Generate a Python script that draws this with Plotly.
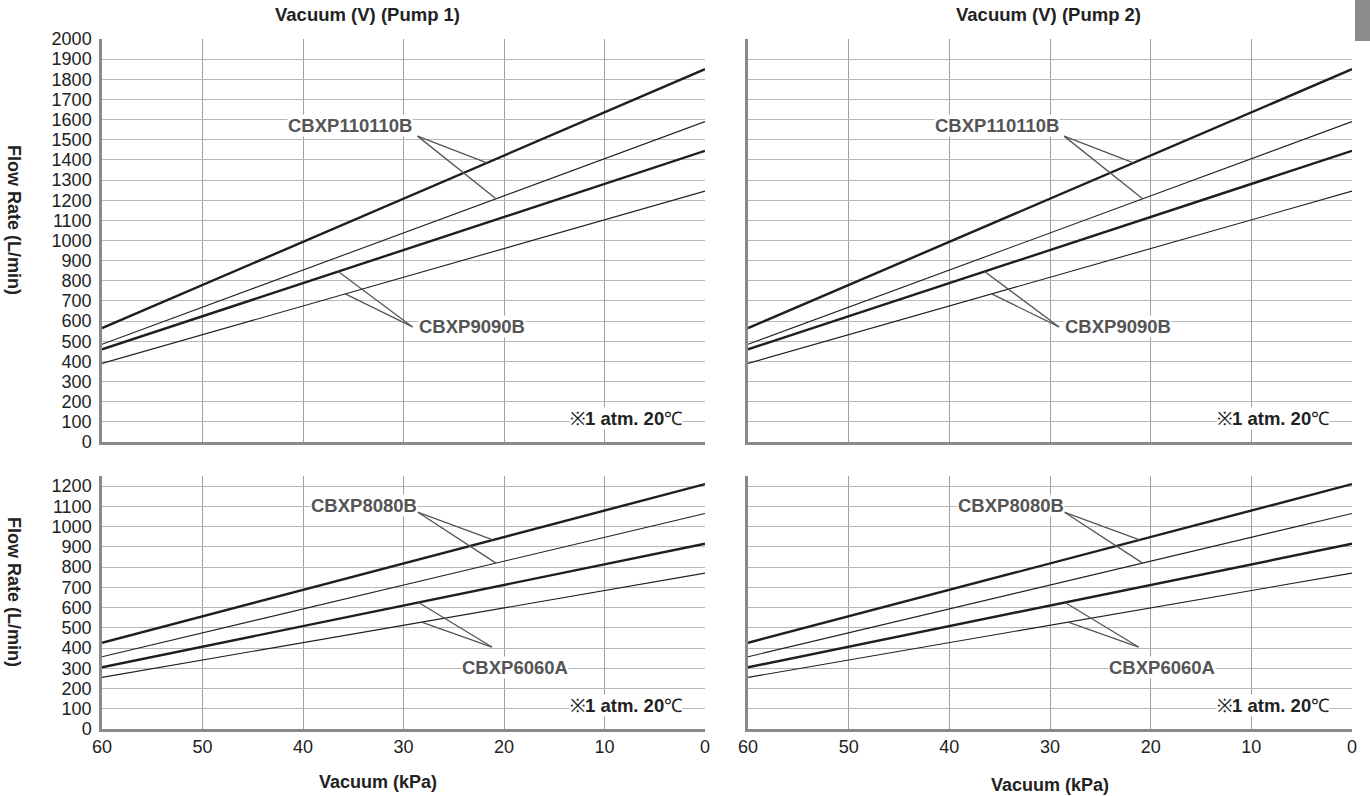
import plotly.graph_objects as go

# ---------------- data ----------------
vacuum_kpa = [60, 0]

# Top panels (both pumps identical)
cbxp110110b_thick = [565, 1850]
cbxp110110b_thin = [485, 1590]
cbxp9090b_thick = [460, 1445]
cbxp9090b_thin = [390, 1245]

# Bottom panels
cbxp8080b_thick = [426, 1210]
cbxp8080b_thin = [357, 1065]
cbxp6060a_thick = [305, 915]
cbxp6060a_thin = [255, 770]

panel_titles = ["Vacuum (V) (Pump 1)", "Vacuum (V) (Pump 2)"]
x_ticks = [60, 50, 40, 30, 20, 10, 0]
y_ticks_top = list(range(0, 2001, 100))
y_ticks_bottom = list(range(0, 1201, 100))

W, H = 1370, 796


def px_x(p):
    return p / W


def px_y(p):
    return 1 - p / H


def interp(xs, ys, x):
    x0, x1 = xs
    y0, y1 = ys
    return y0 + (y1 - y0) * (x - x0) / (x1 - x0)


fig = go.Figure()

dom_x = [[px_x(102), px_x(705)], [px_x(748), px_x(1352)]]
dom_y_top = [px_y(442), px_y(39)]
dom_y_bot = [px_y(729), px_y(476)]

GRID = "#b8b8b8"
VGRID = "#a0a0a0"
AXIS = "#8a8a8a"
TXT = "#222222"
LBL = "#555555"
FONT = "Liberation Sans, Arial"

axes = [
    ("x", "y", 0, "top"),
    ("x2", "y2", 1, "top"),
    ("x3", "y3", 0, "bot"),
    ("x4", "y4", 1, "bot"),
]

layout_axes = {}
for i, (xa, ya, col, row) in enumerate(axes):
    xname = "xaxis" if xa == "x" else "xaxis" + xa[1:]
    yname = "yaxis" if ya == "y" else "yaxis" + ya[1:]
    layout_axes[xname] = dict(
        domain=dom_x[col], range=[60, 0], anchor=ya, automargin=False,
        tickmode="array", tickvals=x_ticks,
        showticklabels=(row == "bot"),
        showgrid=True, gridcolor=VGRID, gridwidth=1.3,
        zeroline=False, showline=True, linecolor=AXIS, linewidth=2.5,
        ticks="", tickfont=dict(family=FONT, size=18, color=TXT),
        fixedrange=True,
    )
    top = 2000 if row == "top" else 1250
    yt = y_ticks_top if row == "top" else y_ticks_bottom
    layout_axes[yname] = dict(
        domain=dom_y_top if row == "top" else dom_y_bot, range=[0, top], anchor=xa,
        automargin=False,
        tickmode="array", tickvals=yt,
        showticklabels=(col == 0),
        showgrid=True, gridcolor=GRID, gridwidth=1.3,
        zeroline=False, showline=True, linecolor=AXIS, linewidth=2.5,
        ticks="", ticklabelstandoff=4,
        tickfont=dict(family=FONT, size=18, color=TXT),
        fixedrange=True,
    )

top_series = [
    (cbxp110110b_thick, 2.4),
    (cbxp110110b_thin, 1.1),
    (cbxp9090b_thick, 2.4),
    (cbxp9090b_thin, 1.1),
]
bot_series = [
    (cbxp8080b_thick, 2.4),
    (cbxp8080b_thin, 1.1),
    (cbxp6060a_thick, 2.4),
    (cbxp6060a_thin, 1.1),
]

for xa, ya, col, row in axes:
    series = top_series if row == "top" else bot_series
    for ys, w in series:
        fig.add_trace(go.Scatter(
            x=vacuum_kpa, y=ys, mode="lines", xaxis=xa, yaxis=ya,
            line=dict(color="#1e1e1e", width=w), showlegend=False,
            hoverinfo="skip",
        ))

annotations = []
shapes = []

# label definitions: (text, label x, label y, leader start x, start y, [(series, x on line)])
top_labels = [
    ("CBXP110110B", 35.3, 1573, 28.6, 1518,
     [(cbxp110110b_thick, 21.7), (cbxp110110b_thin, 20.8)]),
    ("CBXP9090B", 23.2, 575, 29.1, 571,
     [(cbxp9090b_thick, 36.5), (cbxp9090b_thin, 35.8)]),
]
bot_labels = [
    ("CBXP8080B", 33.9, 1106, 28.6, 1072,
     [(cbxp8080b_thick, 21.1), (cbxp8080b_thin, 20.8)]),
    ("CBXP6060A", 18.9, 305, 21.2, 405,
     [(cbxp6060a_thick, 28.5), (cbxp6060a_thin, 28.2)]),
]

for xa, ya, col, row in axes:
    labels = top_labels if row == "top" else bot_labels
    xref, yref = xa, ya
    for text, lx, ly, sx, sy, targets in labels:
        for ys, tx in targets:
            shapes.append(dict(
                type="line", xref=xref, yref=yref,
                x0=sx, y0=sy, x1=tx, y1=interp(vacuum_kpa, ys, tx),
                line=dict(color="#555555", width=1.3), layer="above",
            ))
    for text, lx, ly, sx, sy, targets in labels:
        annotations.append(dict(
            text="<b>%s</b>" % text, x=lx, y=ly, xref=xref, yref=yref,
            xanchor="center", yanchor="middle",
            showarrow=False, bgcolor="white", borderpad=0,
            font=dict(family=FONT, size=18.5, color=LBL),
        ))
    note_y = 115 if row == "top" else 118
    annotations.append(dict(
        text="※<b>1 atm. 20</b>℃", x=2.2, y=note_y, xref=xref, yref=yref,
        xanchor="right", yanchor="middle", showarrow=False, bgcolor="white", borderpad=0,
        font=dict(family=FONT, size=18.5, color=TXT),
    ))

# panel titles
title_pos = [(367, 15), (1048, 15)]
for t, (tx, ty) in zip(panel_titles, title_pos):
    annotations.append(dict(
        text="<b>%s</b>" % t, x=px_x(tx), y=px_y(ty), xref="paper", yref="paper",
        xanchor="center", yanchor="middle",
        showarrow=False, font=dict(family=FONT, size=18.5, color=TXT),
    ))

# y axis titles
for cy in (220, 592):
    annotations.append(dict(
        text="<b>Flow Rate (L/min)</b>", x=px_x(14), y=px_y(cy),
        xref="paper", yref="paper", textangle=90, showarrow=False,
        xanchor="center", yanchor="middle",
        font=dict(family=FONT, size=18, color=TXT),
    ))

# x axis titles
for cx, cy in ((378, 782), (1050, 785)):
    annotations.append(dict(
        text="<b>Vacuum (kPa)</b>", x=px_x(cx), y=px_y(cy),
        xref="paper", yref="paper", showarrow=False,
        xanchor="center", yanchor="middle",
        font=dict(family=FONT, size=18, color=TXT),
    ))

# gray tab at top right
shapes.append(dict(
    type="rect", xref="paper", yref="paper",
    x0=px_x(1355), x1=1.0, y0=px_y(41), y1=1.0,
    fillcolor="#8c8c8c", line=dict(width=0), layer="above",
))

fig.update_layout(
    width=W, height=H, autosize=False,
    margin=dict(l=0, r=0, t=0, b=0, pad=0),
    paper_bgcolor="white", plot_bgcolor="white",
    annotations=annotations, shapes=shapes,
    showlegend=False,
    **layout_axes,
)

fig.write_html(
    "out.html",
    config={"displayModeBar": False},
    post_script="document.body.style.margin='0';document.body.style.overflow='hidden';",
)
